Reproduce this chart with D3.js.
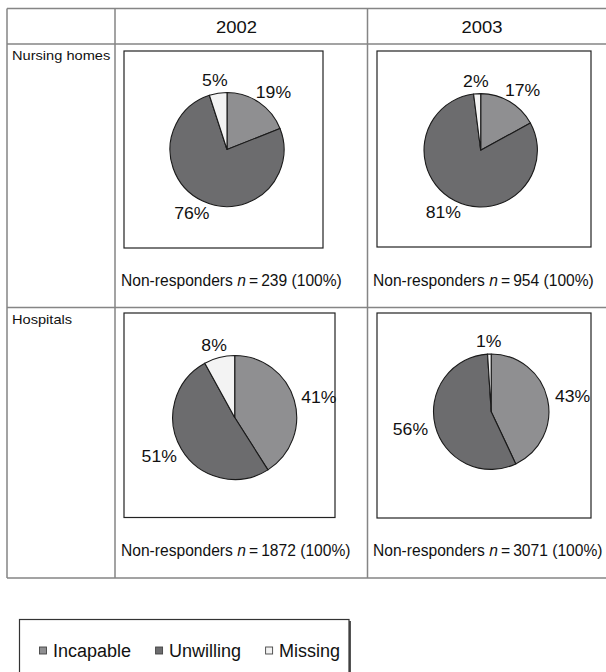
<!DOCTYPE html>
<html>
<head>
<meta charset="utf-8">
<script src="https://cdn.jsdelivr.net/npm/d3@7"></script>
<style>
  body { margin: 0; background: #fff; }
  svg { display: block; font-family: "Liberation Sans", Arial, Helvetica, sans-serif; }
  text { fill: #111; }
</style>
</head>
<body>
<svg id="chart" width="606" height="672"></svg>
<script>
// values
const years = ["2002", "2003"];
const settings = ["Nursing homes", "Hospitals"];
const categories = ["Incapable", "Unwilling", "Missing"];
const nursing2002 = [19, 76, 5];
const nursing2003 = [17, 81, 2];
const hospitals2002 = [41, 51, 8];
const hospitals2003 = [43, 56, 1];
const nursingN = [239, 954];
const hospitalsN = [1872, 3071];

const shares = [[nursing2002, nursing2003], [hospitals2002, hospitals2003]];
const totals = [nursingN, hospitalsN];

var svg = d3.select("#chart");

var color = d3.scaleOrdinal()
  .domain(categories)
  .range(["#8f8f91", "#6c6c6e", "#f3f3f3"]);

// table grid
var colEdges = [7, 115, 367.5, 606],
  rowEdges = [8.5, 44, 307.5, 578];

var grid = svg.append("g")
  .attr("stroke", "#858585")
  .attr("stroke-width", 1.5);

rowEdges.forEach(function (y) {
  grid.append("line").attr("x1", colEdges[0]).attr("x2", colEdges[3]).attr("y1", y).attr("y2", y);
});
colEdges.slice(0, 3).forEach(function (x) {
  grid.append("line").attr("x1", x).attr("x2", x).attr("y1", rowEdges[0]).attr("y2", rowEdges[3]);
});

// the scanned type runs a little wide, so stretch it horizontally
function wideText(g, x, y, str, size, sx, anchor) {
  return g.append("text")
    .attr("transform", "translate(" + x + "," + y + ") scale(" + sx + ",1)")
    .attr("text-anchor", anchor)
    .style("font-size", size + "px")
    .text(str);
}

// column headers
var headX = [236.5, 482];
years.forEach(function (yr, i) {
  wideText(svg, headX[i], 32.5, yr, 16, 1.15, "middle");
});

// row labels
var rowLabelY = [60, 323.5];
settings.forEach(function (s, i) {
  wideText(svg, 12, rowLabelY[i], s, 12.5, 1.17, "start");
});

// panel frames and pie placement
var panels = [
  [{ box: [124, 51, 323, 248], cx: 227, cy: 149.5, r: 57 },
   { box: [377, 51, 591, 247], cx: 480.7, cy: 150.3, r: 56.7 }],
  [{ box: [124, 313, 335, 517.5], cx: 234.7, cy: 417.5, r: 62 },
   { box: [377, 313, 591, 518], cx: 491.2, cy: 411.7, r: 57.7 }]
];
var noteY = [285.5, 555.7];
var noteX = [121, 373];

var pie = d3.pie().sort(null).value((d) => d);
var labelScale = 1.07;

shares.forEach(function (rowData, ri) {
  rowData.forEach(function (values, ci) {
    var p = panels[ri][ci];

    svg.append("rect")
      .attr("x", p.box[0])
      .attr("y", p.box[1])
      .attr("width", p.box[2] - p.box[0])
      .attr("height", p.box[3] - p.box[1])
      .attr("fill", "none")
      .attr("stroke", "#222")
      .attr("stroke-width", 1.2);

    var arc = d3.arc().innerRadius(0).outerRadius(p.r);
    var arcs = pie(values);

    var g = svg.append("g").attr("transform", "translate(" + p.cx + "," + p.cy + ")");

    g.selectAll("path")
      .data(arcs)
      .enter()
      .append("path")
      .attr("d", arc)
      .attr("fill", (d, k) => color(categories[k]))
      .attr("stroke", "#1a1a1a")
      .attr("stroke-width", 1.1)
      .attr("stroke-linejoin", "round");

    // percentage labels outside each slice, pushed out by half the label box
    arcs.forEach(function (d) {
      var a = (d.startAngle + d.endAngle) / 2,
        ux = Math.sin(a),
        uy = -Math.cos(a);
      var t = g.append("text")
        .attr("text-anchor", "middle")
        .attr("dy", "0.36em")
        .style("font-size", "16.5px")
        .text(d.data + "%");
      var hw = t.node().getComputedTextLength() * labelScale / 2,
        hh = 5,
        pad = 8;
      var x = (p.r + pad + hw) * ux,
        y = (p.r + pad + hh) * uy;
      t.attr("transform", "translate(" + x + "," + y + ") scale(" + labelScale + ",1)");
    });

    // n line under each panel
    var note = svg.append("text")
      .attr("x", noteX[ci])
      .attr("y", noteY[ri])
      .style("font-size", "15.6px");
    note.append("tspan").text("Non-responders ");
    note.append("tspan").style("font-style", "italic").text("n");
    note.append("tspan").text("\u2009=\u2009" + totals[ri][ci] + " (100%)");
  });
});

// legend
var legend = svg.append("g");
legend.append("rect")
  .attr("x", 21).attr("y", 621)
  .attr("width", 330).attr("height", 70)
  .attr("fill", "#555");
legend.append("rect")
  .attr("x", 19.5).attr("y", 619.5)
  .attr("width", 329.5).attr("height", 70)
  .attr("fill", "#fff")
  .attr("stroke", "#333")
  .attr("stroke-width", 1.2);

var lx = 39.5;
categories.forEach(function (c) {
  legend.append("rect")
    .attr("x", lx).attr("y", 647)
    .attr("width", 7).attr("height", 7)
    .attr("fill", color(c))
    .attr("stroke", "#444")
    .attr("stroke-width", 0.9);
  var t = legend.append("text")
    .attr("x", lx + 13.5)
    .attr("y", 656.5)
    .style("font-size", "18px")
    .text(c);
  lx += 13.5 + t.node().getComputedTextLength() + 24.5;
});
</script>
</body>
</html>
